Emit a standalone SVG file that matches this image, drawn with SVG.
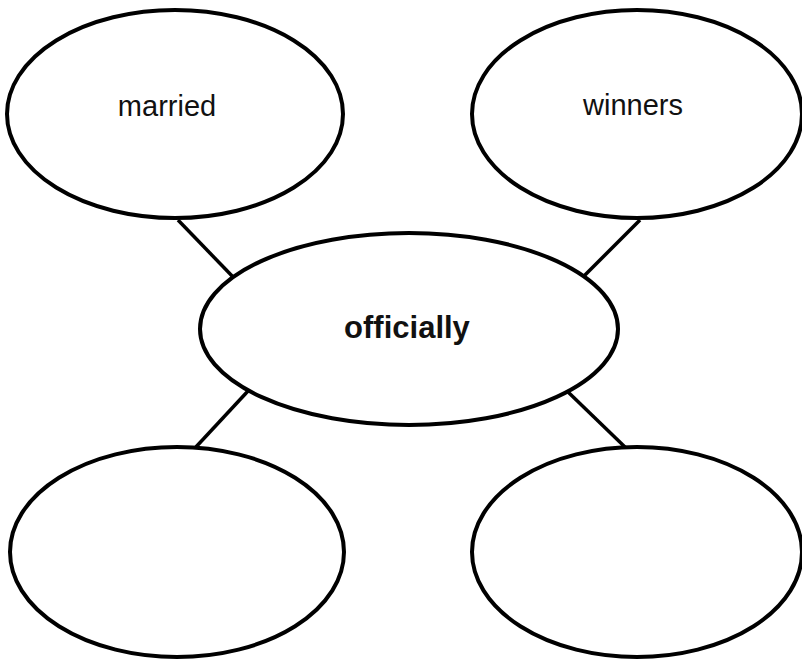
<svg xmlns="http://www.w3.org/2000/svg" width="802" height="659" viewBox="0 0 802 659">
<style>
.node{fill:#fff;stroke:#000;stroke-width:4}
.conn line{stroke:#000;stroke-width:3.5}
.lbl{font-family:"Liberation Sans",Arial,sans-serif;font-size:29px;fill:#111;text-anchor:middle}
.bold{font-weight:bold;font-size:31px}
</style>
<rect width="802" height="659" fill="#fff"/>
<g id="connectors" class="conn">
<line x1="178" y1="220" x2="235" y2="279"/>
<line x1="640" y1="220" x2="581" y2="279"/>
<line x1="248" y1="391" x2="195" y2="448"/>
<line x1="567" y1="391" x2="626" y2="448"/>
</g>
<g id="married"><ellipse class="node" cx="175" cy="114" rx="168" ry="104"/><text class="lbl" x="167" y="116">married</text></g>
<g id="winners"><ellipse class="node" cx="637" cy="114" rx="165" ry="104"/><text class="lbl" x="633" y="115">winners</text></g>
<g id="officially"><ellipse class="node" cx="409" cy="329" rx="209" ry="96"/><text class="lbl bold" x="407" y="338">officially</text></g>
<g id="bottom-left"><ellipse class="node" cx="177" cy="552" rx="167" ry="105"/></g>
<g id="bottom-right"><ellipse class="node" cx="637" cy="552" rx="165" ry="105"/></g>
</svg>
